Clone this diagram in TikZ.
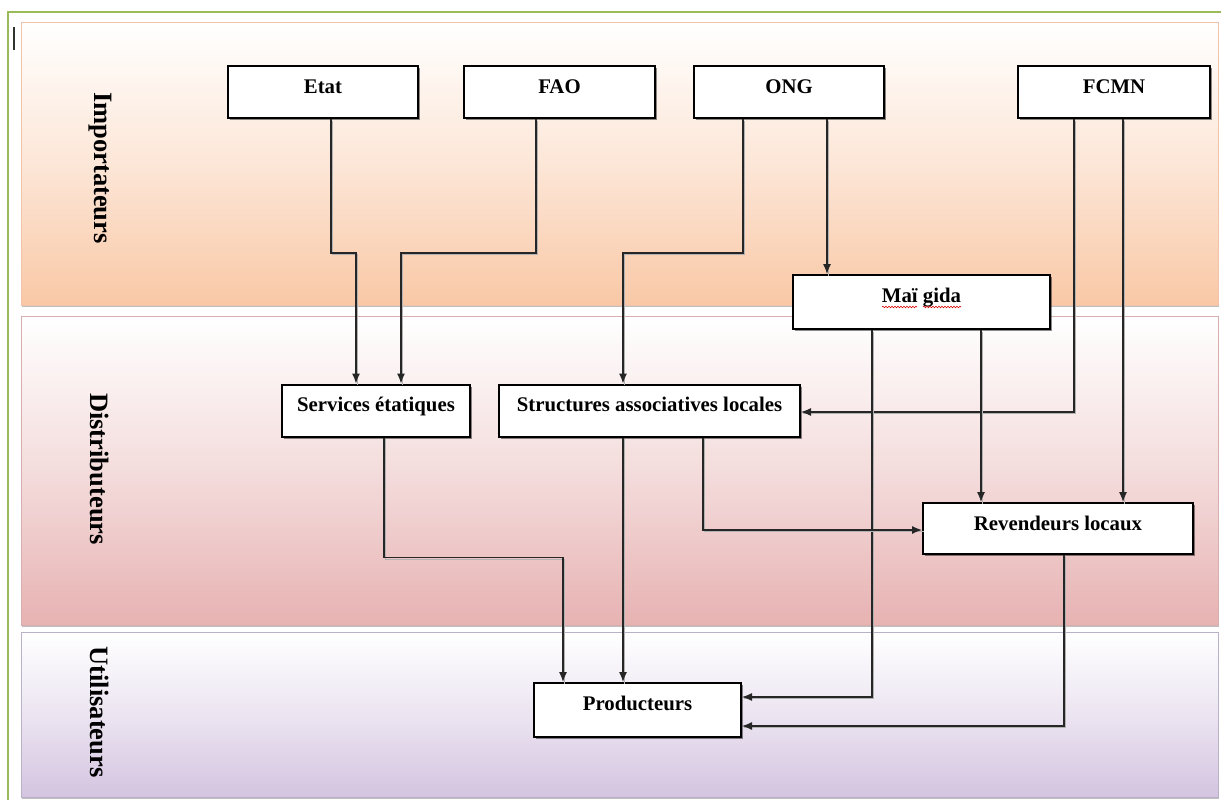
\documentclass[tikz,border=0pt]{standalone}
\usepackage{fontspec}
\setmainfont{Liberation Serif}
\usetikzlibrary{arrows.meta,shadows,decorations.pathmorphing}
\definecolor{framegreen}{RGB}{155,187,89}
\definecolor{impband}{RGB}{249,200,166}
\definecolor{impline}{RGB}{240,195,170}
\definecolor{disband}{RGB}{231,178,178}
\definecolor{disline}{RGB}{215,175,175}
\definecolor{utiband}{RGB}{212,196,224}
\definecolor{utiline}{RGB}{185,178,198}
\tikzset{
 stagebox/.style={draw=black, line width=2pt, fill=white, inner xsep=0pt, inner ysep=0pt,
   text height=27pt, text depth=25pt, font=\fontsize{20.8}{24}\selectfont\bfseries,
   drop shadow={shadow xshift=2pt, shadow yshift=-2pt, opacity=0.45, fill=black}},
 bandlabel/.style={rotate=-90, font=\fontsize{26.5}{29}\selectfont\bfseries},
 band/.style={line width=1pt, drop shadow={shadow xshift=1pt, shadow yshift=-2pt, opacity=0.25, fill=black}},
 conn/.style={draw=black!85, line width=1.2pt, -{Latex[length=10pt,width=8pt]},
   preaction={draw=black!30, -, line width=1pt, transform canvas={shift={(1.6pt,-1.6pt)}}}},
 squiggle/.style={draw=red!85!black, line width=0.6pt, decorate, decoration={snake, amplitude=0.8pt, segment length=3pt}},
}
\begin{document}
\begin{tikzpicture}[x=1pt,y=-1pt]
\useasboundingbox (0,0) rectangle (1221,800);
\fill[white] (0,0) rectangle (1221,800);
% frame
\draw[framegreen, line width=2pt] (8,820) -- (8,12) -- (1240,12);
\draw[black!80, line width=1.5pt] (14,27) -- (14,50);
% bands
\draw[band, draw=impline, top color=white, bottom color=impband, middle color=impband!45] (21,23) rectangle (1218,305);
\draw[band, draw=disline, top color=white, bottom color=disband, middle color=disband!45] (21,316) rectangle (1218,625);
\draw[band, draw=utiline, top color=white, bottom color=utiband, middle color=utiband!45] (21,632) rectangle (1218,797);
\node[bandlabel] (limp) at (100,168) {Importateurs};
\node[bandlabel] (ldis) at (100,469) {Distributeurs};
\node[bandlabel] (luti) at (100,712) {Utilisateurs};
% boxes
\node[stagebox, minimum width=190pt] (etat) at (323,92) {Etat};
\node[stagebox, minimum width=191pt] (fao) at (559.5,92) {FAO};
\node[stagebox, minimum width=190pt] (ong) at (789,92) {ONG};
\node[stagebox, minimum width=192pt] (fcmn) at (1114,92) {FCMN};
\node[stagebox, minimum width=257pt, text depth=27pt] (mai) at (921.5,302) {Maï gida};
\node[stagebox, minimum width=188pt] (serv) at (376,410.5) {Services étatiques};
\node[stagebox, minimum width=301pt] (struct) at (649.5,410.5) {Structures associatives locales};
\node[stagebox, minimum width=270pt, text depth=24pt] (rev) at (1058,528.5) {Revendeurs locaux};
\node[stagebox, minimum width=207pt, text depth=27pt] (prod) at (637.5,710) {Producteurs};
% spell-check underline
\draw[squiggle] (882,307) -- (917,307);
\draw[squiggle] (923,307) -- (961,307);
% connectors
\draw[conn] ([xshift=8pt]etat.south) -- ++(0,134) -| ([xshift=-20pt]serv.north);
\draw[conn] ([xshift=-23.5pt]fao.south) -- ++(0,134) -| ([xshift=25pt]serv.north);
\draw[conn] ([xshift=-46pt]ong.south) -- ++(0,134) -| ([xshift=-26.5pt]struct.north);
\draw[conn] ([xshift=38pt]ong.south) -- ([xshift=-94.5pt]mai.north);
\draw[conn] ([xshift=-40pt]fcmn.south) |- ([yshift=-1.5pt]struct.east);
\draw[conn] ([xshift=9pt]fcmn.south) -- ([xshift=65pt]rev.north);
\draw[conn] ([xshift=59.5pt]mai.south) -- ([xshift=-77pt]rev.north);
\draw[conn] ([xshift=-49.5pt]mai.south) |- ([yshift=13pt]prod.east);
\draw[conn] ([xshift=53.5pt]struct.south) |- ([yshift=-1.5pt]rev.west);
\draw[conn] ([xshift=-26.5pt]struct.south) -- ([xshift=-14.5pt]prod.north);
\draw[conn] ([xshift=8pt]serv.south) -- ++(0,120) -| ([xshift=-74.5pt]prod.north);
\draw[conn] ([xshift=6pt]rev.south) |- ([yshift=-16pt]prod.east);
\end{tikzpicture}
\end{document}
